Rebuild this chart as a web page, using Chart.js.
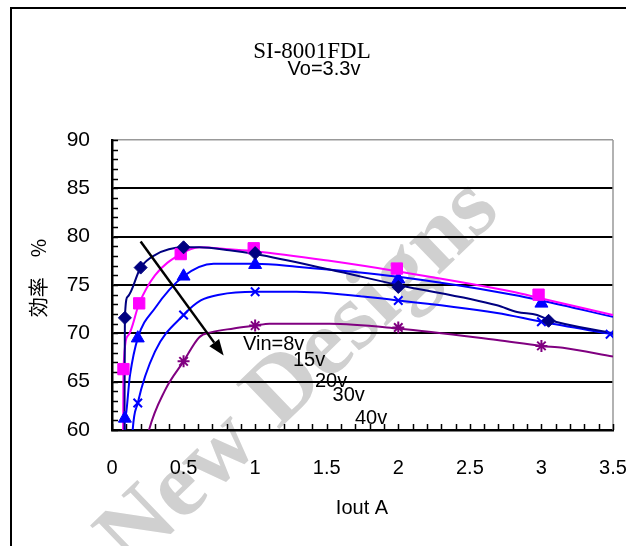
<!DOCTYPE html>
<html><head><meta charset="utf-8">
<script src="https://cdn.jsdelivr.net/npm/chart.js@4"></script>
<style>
html,body{margin:0;padding:0;background:#fff;overflow:hidden}
#wrap{position:relative;width:626px;height:546px}
#frame{position:absolute;left:10px;top:7px;width:700px;height:700px;border:2px solid #000;box-sizing:border-box;pointer-events:none}
canvas{position:absolute;left:0;top:0}
</style></head>
<body><div id="wrap"><canvas id="c" width="626" height="546"></canvas><div id="frame"></div></div>
<script>
// ---- data ----
const seriesNames = ['Vin=8v', '15v', '20v', '30v', '40v'];
const xTicks = [0, 0.5, 1, 1.5, 2, 2.5, 3, 3.5];
const yTicks = [60, 65, 70, 75, 80, 85, 90];

// measured points (markers)
const m8x  = [0.09, 0.2, 0.5, 1.0, 2.0, 3.05];
const m8y  = [71.6, 76.8, 78.9, 78.3, 74.8, 71.3];
const m15x = [0.08, 0.19, 0.48, 0.99, 1.99, 2.98];
const m15y = [66.3, 73.1, 78.2, 78.8, 76.7, 74.0];
const m20x = [0.09, 0.18, 0.5, 1.0, 2.0, 3.0];
const m20y = [61.2, 69.5, 75.9, 77.1, 75.6, 73.1];
const m30x = [0.18, 0.5, 1.0, 2.0, 3.0, 3.48];
const m30y = [62.8, 71.9, 74.3, 73.4, 71.2, 69.9];
const m40x = [0.5, 1.0, 2.0, 3.0];
const m40y = [67.1, 70.8, 70.6, 68.7];

// curve traces
const c8x  = [0.085, 0.09, 0.11, 0.2, 0.3, 0.5, 0.61, 0.82, 1.0, 1.52, 2.0, 2.69, 2.83, 2.97, 3.05, 3.5];
const c8y  = [50, 71.6, 73.8, 76.8, 78.1, 78.9, 78.9, 78.6, 78.2, 76.6, 75.0, 72.9, 72.2, 71.9, 71.4, 70.0];
const c15x = [0.075, 0.08, 0.114, 0.19, 0.3, 0.48, 0.61, 0.82, 1.0, 1.52, 2.0, 2.8, 3.0, 3.5];
const c15y = [50, 66.3, 69.8, 73.1, 76.0, 78.2, 78.9, 78.7, 78.5, 77.5, 76.4, 74.3, 73.6, 71.9];
const c20x = [0.095, 0.09, 0.126, 0.18, 0.3, 0.5, 0.71, 1.0, 1.29, 2.0, 2.8, 3.0, 3.5];
const c20y = [50, 61.2, 65.7, 69.5, 72.6, 75.9, 77.2, 77.2, 76.9, 75.85, 74.0, 73.4, 71.7];
const c30x = [0.13, 0.142, 0.18, 0.3, 0.5, 0.62, 0.75, 1.0, 1.29, 2.0, 2.69, 3.0, 3.5];
const c30y = [55, 59.5, 62.8, 68.1, 71.9, 73.4, 74.0, 74.3, 74.3, 73.4, 72.1, 71.2, 69.9];
const c40x = [0.22, 0.25, 0.37, 0.5, 0.61, 0.69, 0.85, 1.0, 1.1, 1.52, 2.0, 2.69, 3.0, 3.15, 3.5];
const c40y = [57, 59.5, 64.1, 67.1, 69.6, 70.1, 70.5, 70.8, 71.0, 71.0, 70.5, 69.3, 68.7, 68.5, 67.6];

// annotation anchors (data units)
const labelX = [0.915, 1.264, 1.418, 1.541, 1.697];
const labelY = [68.8, 67.2, 65.0, 63.6, 61.2];
const arrowFrom = [0.2, 79.5];
const arrowTo = [0.78, 67.7];

const zip = (xs, ys) => xs.map((x, i) => ({x, y: ys[i]}));

const colors = ['#000080', '#FF00FF', '#0000FF', '#0000FF', '#800080'];
const styles = ['rectRot', 'rect', 'triangle', 'crossRot', 'star'];
const radii = [6.5, 8, 7.5, 6, 6];
const curves = [[c8x, c8y], [c15x, c15y], [c20x, c20y], [c30x, c30y], [c40x, c40y]];
const marks = [[m8x, m8y], [m15x, m15y], [m20x, m20y], [m30x, m30y], [m40x, m40y]];

const datasets = [];
curves.forEach((c, i) => {
  datasets.push({
    label: seriesNames[i] + ' line', data: zip(c[0], c[1]), showLine: true,
    borderColor: colors[i], borderWidth: 2, pointRadius: 0,
    cubicInterpolationMode: 'monotone', fill: false, order: 2
  });
});
marks.forEach((m, i) => {
  datasets.push({
    label: seriesNames[i], data: zip(m[0], m[1]), showLine: false,
    pointStyle: styles[i], pointRadius: radii[i],
    backgroundColor: colors[i], borderColor: colors[i],
    borderWidth: (styles[i] === 'crossRot' || styles[i] === 'star') ? 2 : 1, order: 1
  });
});

const SANS = "'Liberation Sans', Arial, sans-serif";

const deco = {
  id: 'deco',
  beforeDraw(chart) {
    const ctx = chart.ctx;
    ctx.save();
    ctx.translate(300, 375);
    ctx.rotate(-44 * Math.PI / 180);
    ctx.font = "bold 95px 'Liberation Serif', serif";
    ctx.fillStyle = 'rgb(208,208,208)';
    ctx.textAlign = 'center';
    ctx.textBaseline = 'middle';
    ctx.fillText('New Designs', 0, 0);
    ctx.restore();
  },
  beforeDatasetsDraw(chart) {
    const {ctx, chartArea: a, scales: {x, y}} = chart;
    ctx.save();
    ctx.strokeStyle = '#999';
    ctx.lineWidth = 1.5;
    ctx.beginPath();
    ctx.moveTo(a.right, a.top); ctx.lineTo(a.right, a.bottom);
    ctx.stroke();
    ctx.strokeStyle = '#000';
    ctx.lineWidth = 1.5;
    ctx.beginPath();
    for (let v = 60; v <= 90; v += 1) {
      const py = Math.round(y.getPixelForValue(v)) + 0.5;
      ctx.moveTo(a.left, py); ctx.lineTo(a.left + 6, py);
    }
    for (let k = 0; k <= 35; k++) {
      const px = Math.round(x.getPixelForValue(k / 10)) + 0.5;
      ctx.moveTo(px, a.bottom); ctx.lineTo(px, a.bottom - 6);
    }
    ctx.stroke();
    ctx.restore();
  },
  afterDraw(chart) {
    const {ctx, scales: {x, y}} = chart;
    ctx.save();
    ctx.fillStyle = '#000';
    ctx.textAlign = 'center';
    ctx.textBaseline = 'middle';
    ctx.font = "23px 'Liberation Serif', serif";
    ctx.fillText('SI-8001FDL', 312, 52);
    ctx.font = '20px ' + SANS;
    ctx.fillText('Vo=3.3v', 324, 69);
    ctx.fillText('Iout A', 362, 508);
    // y title
    ctx.save();
    ctx.translate(38, 278);
    ctx.rotate(-Math.PI / 2);
    ctx.font = "20px 'Noto Sans CJK JP', sans-serif";
    ctx.fillText('効率　%', 0, 0);
    ctx.restore();
    // Vin labels
    ctx.textAlign = 'left';
    ctx.font = '20px ' + SANS;
    seriesNames.forEach((t, i) => {
      ctx.fillText(t, x.getPixelForValue(labelX[i]), y.getPixelForValue(labelY[i]));
    });
    // arrow
    const x0 = x.getPixelForValue(arrowFrom[0]), y0 = y.getPixelForValue(arrowFrom[1]);
    const x1 = x.getPixelForValue(arrowTo[0]), y1 = y.getPixelForValue(arrowTo[1]);
    const ang = Math.atan2(y1 - y0, x1 - x0);
    const hl = 16, hw = 6;
    const bx = x1 - hl * Math.cos(ang), by = y1 - hl * Math.sin(ang);
    ctx.strokeStyle = '#000';
    ctx.lineWidth = 2.5;
    ctx.beginPath(); ctx.moveTo(x0, y0); ctx.lineTo(bx, by); ctx.stroke();
    ctx.beginPath();
    ctx.moveTo(x1, y1);
    ctx.lineTo(bx + hw * Math.sin(ang), by - hw * Math.cos(ang));
    ctx.lineTo(bx - hw * Math.sin(ang), by + hw * Math.cos(ang));
    ctx.closePath(); ctx.fill();
    ctx.restore();
  }
};

new Chart(document.getElementById('c'), {
  type: 'scatter',
  data: {datasets},
  options: {
    responsive: false, animation: false, devicePixelRatio: 1,
    layout: {padding: {top: 140, right: 13, left: 0, bottom: 0}},
    plugins: {legend: {display: false}, tooltip: {enabled: false}},
    scales: {
      x: {
        type: 'linear', min: 0, max: 3.5,
        afterBuildTicks: s => { s.ticks = xTicks.map(v => ({value: v})); },
        afterFit: s => { s.height = 116; s.paddingLeft = 0; s.paddingRight = 0; },
        ticks: {color: '#000', font: {family: SANS, size: 20}, padding: 18,
                autoSkip: false, maxRotation: 0, callback: v => String(v)},
        grid: {display: false},
        border: {display: true, color: '#000', width: 2.5}
      },
      y: {
        type: 'linear', min: 60, max: 90,
        afterBuildTicks: s => { s.ticks = yTicks.map(v => ({value: v})); },
        afterFit: s => { s.width = 112; s.paddingTop = 0; s.paddingBottom = 0; },
        ticks: {color: '#000', font: {family: SANS, size: 21}, padding: 22},
        grid: {drawTicks: false,
               color: c => (c.tick && c.tick.value === 90) ? '#999' : '#000',
               lineWidth: c => (c.tick && c.tick.value === 90) ? 1.5 : 2},
        border: {display: true, color: '#000', width: 2.5}
      }
    }
  },
  plugins: [deco]
});
</script>
</body></html>
